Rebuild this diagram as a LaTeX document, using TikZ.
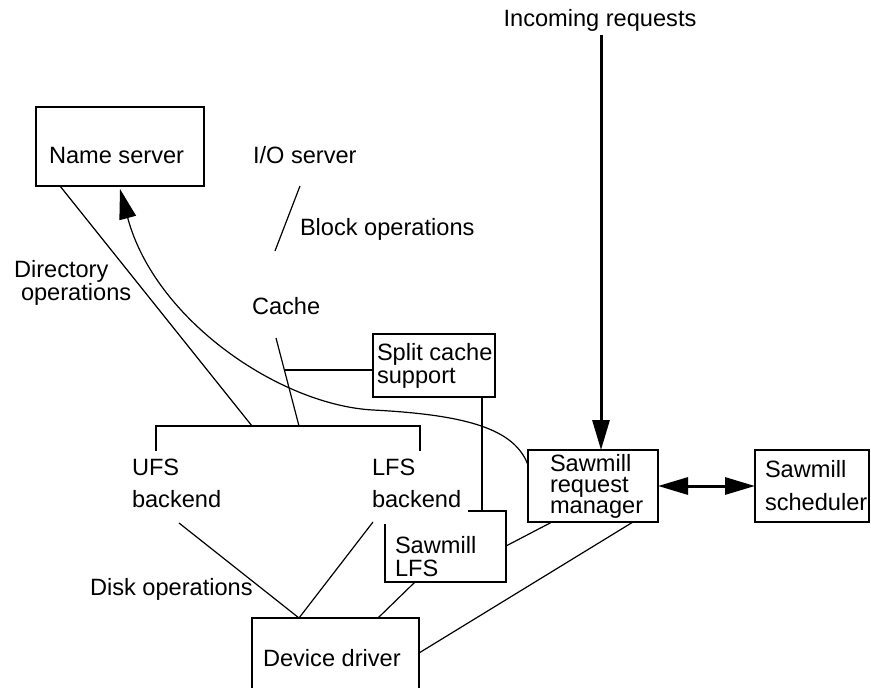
\documentclass[tikz,border=0pt]{standalone}
\usepackage{fontspec}
\setmainfont{Liberation Sans}
\usetikzlibrary{arrows.meta,calc}
\newcommand\stackl[2]{\vtop{\baselineskip=#1\lineskiplimit=-1000pt\lineskip=0pt #2}}
\begin{document}
\begin{tikzpicture}[x=1pt,y=-1pt,
  every node/.style={inner sep=0pt, outer sep=0pt},
  lbl/.style={font=\fontsize{23.6}{24}\selectfont, anchor=base west},
  thinbox/.style={draw, line width=1.2pt, anchor=north west},
  thickbox/.style={draw, line width=2.8pt, anchor=north west},
  conn/.style={line width=1.2pt},
  bigtip/.style={-{Triangle[length=30pt,width=17pt]}},
  dbltip/.style={{Triangle[length=30pt,width=17pt]}-{Triangle[length=30pt,width=17pt]}},
  heavy/.style={line width=3pt},
]
\useasboundingbox (0,0) rectangle (871,688);
\clip (0,0) rectangle (871,688);

% boxes
\node[thinbox, minimum width=168pt, minimum height=79pt] (ns) at (36,107) {};
\node[thickbox, minimum width=122pt, minimum height=63pt] (sc) at (373,334) {};
\node[thickbox, minimum width=130pt, minimum height=72pt] (rm) at (528,450) {};
\node[thickbox, minimum width=114pt, minimum height=72pt] (sch) at (755,450) {};
\node[thinbox, minimum width=167pt, minimum height=90pt] (dd) at (252,618) {};
\node[anchor=north west, minimum width=121pt, minimum height=71pt] (slfs) at (385,511) {};
\draw[conn] ($(slfs.north east)+(-38,0)$) -- (slfs.north east) -- (slfs.south east)
  -- (slfs.south west) -- ($(slfs.north west)+(0,13)$);

% texts
\node[lbl, anchor=base] (t-in) at (600,27) {Incoming requests};
\node[lbl] (t-ns) at (49,163) {Name server};
\node[lbl] (t-io) at (253,163) {I/O server};
\node[lbl] (t-block) at (300,235) {Block operations};
\node[lbl] (t-dir) at (14,277) {\stackl{23pt}{\hbox{Directory}\hbox{\kern7pt operations}}};
\node[lbl] (t-cache) at (252,314) {Cache};
\node[lbl] (t-sc) at (377,360) {\stackl{23pt}{\hbox{Split cache}\hbox{support}}};
\node[lbl] (t-ufs) at (132,475) {\stackl{32pt}{\hbox{UFS}\hbox{backend}}};
\node[lbl] (t-lfs) at (372,475) {\stackl{32pt}{\hbox{LFS}\hbox{backend}}};
\node[lbl] (t-slfs) at (395,553) {\stackl{23pt}{\hbox{Sawmill}\hbox{LFS}}};
\node[lbl] (t-rm) at (550,471) {\stackl{21pt}{\hbox{Sawmill}\hbox{request}\hbox{manager}}};
\node[lbl] (t-sch) at (765,477) {\stackl{33pt}{\hbox{Sawmill}\hbox{scheduler}}};
\node[lbl] (t-disk) at (90,595) {Disk operations};
\node[lbl] (t-dd) at (263,666) {Device driver};

% connectors
\coordinate (bo1) at (300,186);
\coordinate (bo2) at (275,251);
\draw[conn] (bo1) -- (bo2);

\coordinate (barL) at (156,426);
\coordinate (barR) at (420,426);
\draw[conn] ($(barL)+(0,25)$) -- (barL) -- (barR) -- ($(barR)+(0,25)$);

\coordinate (dj) at (252,426);
\draw[conn] ($(ns.south west)+(24,0)$) -- (dj);

\coordinate (c1) at (276,338);
\coordinate (cj) at (299,426);
\draw[conn] (c1) -- (cj);
\coordinate (scj) at ($(c1)!0.3636!(cj)$);
\draw[conn] (scj) -- (scj -| sc.west);

\draw[conn] ($(sc.south east)+(-13,0)$) -- ($(slfs.north east)+(-24,0)$);

\coordinate (u1) at (179,523);
\coordinate (l1) at (373,522);
\coordinate (ddt) at ($(dd.north west)+(47,0)$);
\draw[conn] (u1) -- (ddt);
\draw[conn] (l1) -- (ddt);
\draw[conn] ($(slfs.south west)+(30,0)$) -- ($(dd.north west)+(126,0)$);
\draw[conn] ($(rm.south west)+(24,0)$) -- ($(slfs.north east)+(0,35)$);
\draw[conn] ($(rm.south west)+(105,0)$) -- ($(dd.north east)+(0,35)$);

\draw[conn, bigtip] ($(rm.west)+(0,-21)$) .. controls (515,430) and (470,415) .. (373,410)
  .. controls (280,405) and (155,320) .. ($(ns.south)+(0,3)$);

\coordinate (inc) at (601,35);
\draw[heavy, bigtip] (inc) -- (inc |- rm.north);
\draw[heavy, dbltip] (rm.east) -- (sch.west);
\end{tikzpicture}
\end{document}
